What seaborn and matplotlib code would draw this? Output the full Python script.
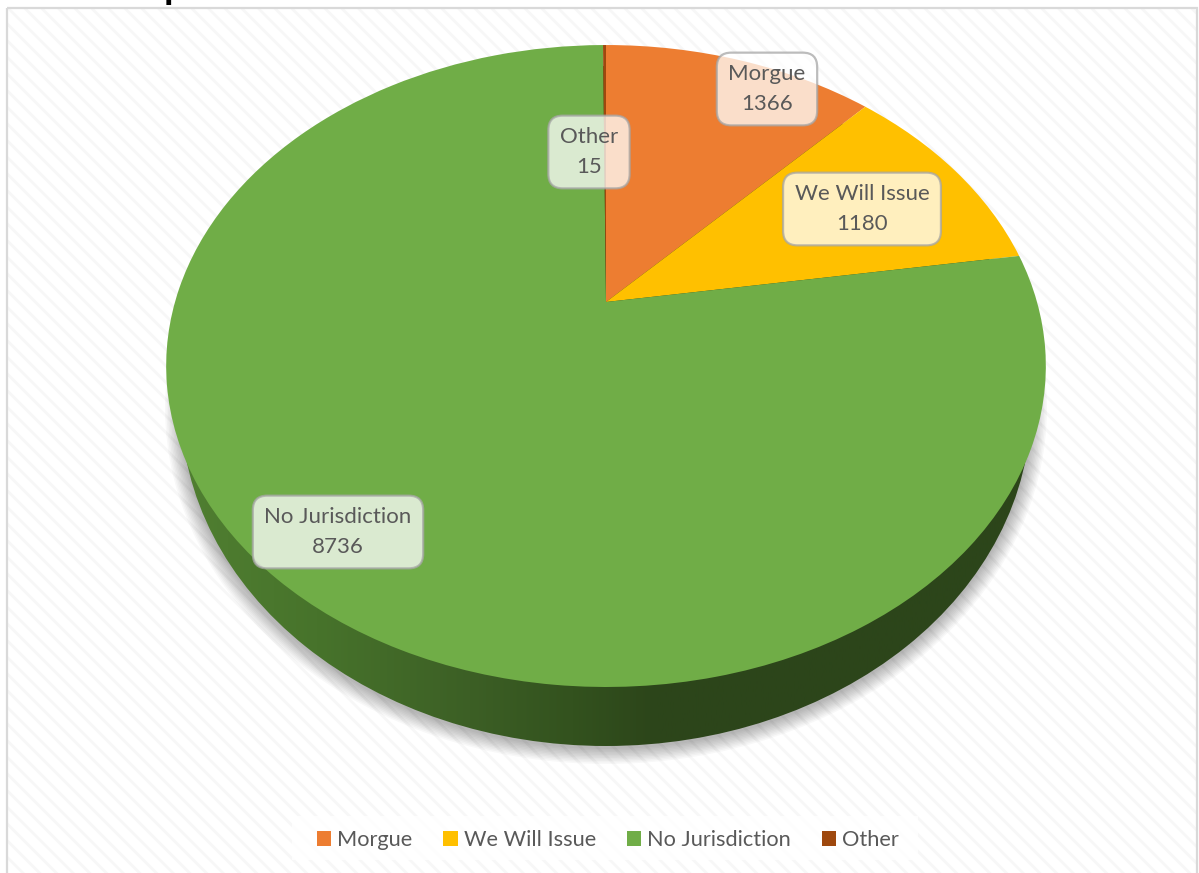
import numpy as np
import matplotlib
matplotlib.use("Agg")
import matplotlib.pyplot as plt
from matplotlib.patches import Rectangle, Ellipse
from matplotlib.transforms import Transform
import seaborn as sns

categories = ["Morgue", "We Will Issue", "No Jurisdiction", "Other"]
counts = [1366, 1180, 8736, 15]
slice_colors = ["#ed7d31", "#ffc000", "#70ad47", "#9e480e"]
label_centers = [(767, 89), (862, 209), (338, 532), (589, 152)]

sns.set_theme(style="white")
plt.rcParams["font.family"] = ["Lato", "DejaVu Sans"]
plt.rcParams["hatch.linewidth"] = 2.0
plt.rcParams["hatch.color"] = "#f7f7f7"

W, H = 1199, 873
fig = plt.figure(figsize=(W / 100, H / 100), dpi=100, facecolor="white")
ax = fig.add_axes([0, 0, 1, 1])


class TiltedDisc(Transform):
    """Projective map of the unit circle to the tilted pie top, in pixels."""
    input_dims = output_dims = 2
    has_inverse = False
    is_separable = False

    def transform_non_affine(self, xy):
        xy = np.asarray(xy, float)
        d = 1 + 0.1994 * xy[:, 1]
        return np.column_stack((606 + 431 * xy[:, 0] / d,
                                (302 - 248 * xy[:, 1]) / d))


palette = sns.color_palette(slice_colors)
wedges, _ = ax.pie(counts, colors=palette, startangle=90, counterclock=False,
                   radius=1, wedgeprops=dict(linewidth=0, zorder=5))

ax.set_aspect("auto")
ax.set_xlim(0, W)
ax.set_ylim(H, 0)
ax.set_axis_off()

disc = TiltedDisc() + ax.transData
for w in wedges:
    w.set_transform(disc)
    w.set_clip_on(False)

# striped chart-area background and border
ax.add_patch(Rectangle((7, 8), 1190, 880, facecolor="white", edgecolor="#f7f7f7",
                       hatch="\\\\", linewidth=0, zorder=0))
ax.add_patch(Rectangle((7, 8), 1190, 880, facecolor="none", edgecolor="#d9d9d9",
                       linewidth=1.6, zorder=0.5))

# soft shadow under the disc
for grow in np.arange(16, 0, -1.5):
    ax.add_patch(Ellipse((606, 408), 2 * (425 + grow), 2 * (340 + grow),
                         facecolor="black", alpha=0.028, linewidth=0, zorder=1))

# side wall with horizontal shading
wall = Ellipse((606, 406), 850, 680, facecolor="none", linewidth=0, zorder=2)
ax.add_patch(wall)
cmap = matplotlib.colors.LinearSegmentedColormap.from_list(
    "wall", [(0, "#507f31"), (0.16, "#47732b"), (0.34, "#3c5f25"), (0.46, "#33521e"),
             (0.56, "#2c451a"), (1, "#2c451a")])
grad = ax.imshow(np.linspace(0, 1, 512)[None, :], cmap=cmap, aspect="auto",
                 extent=(181, 1031, 746, 66), zorder=3)
grad.set_clip_path(wall)
ax.set_xlim(0, W)
ax.set_ylim(H, 0)

# data labels
for name, n, (x, y) in zip(categories, counts, label_centers):
    ax.text(x, y, f"{name}\n{n}", ha="center", va="center", color="#595959",
            fontsize=16, linespacing=1.6, zorder=7,
            bbox=dict(boxstyle="round,pad=0.52,rounding_size=0.65", facecolor="white",
                      alpha=0.75, edgecolor="#a6a6a6", linewidth=1.6))

# clipped remnant of the title above the chart
ax.text(164, -1, "p", color="black", fontsize=28, fontweight="bold", va="baseline",
        ha="left", zorder=8, clip_on=False)

# legend panel and legend
ax.add_patch(Rectangle((292, 816), 626, 44, facecolor="white", alpha=0.85,
                       linewidth=0, zorder=8.5))
leg = ax.legend(wedges, categories, ncol=4, loc="center",
                bbox_to_anchor=(608, 840), bbox_transform=ax.transData,
                fontsize=15.7, labelcolor="#595959", frameon=False,
                handlelength=0.65, handleheight=0.68, handletextpad=0.28,
                columnspacing=1.42, borderpad=0.3, borderaxespad=0)
leg.set_zorder(9)

fig.savefig("out.png", dpi=100, facecolor="white")
